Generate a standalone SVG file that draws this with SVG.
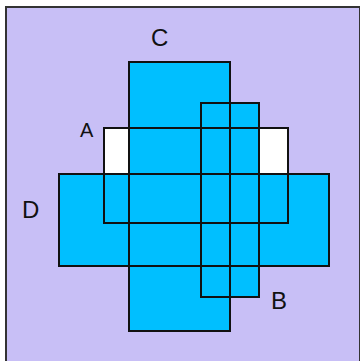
<svg xmlns="http://www.w3.org/2000/svg" width="360" height="361" viewBox="0 0 360 361">
<style>
.fill{fill:#00bfff;stroke:none}
.out{fill:none;stroke:#111;stroke-width:2}
.lbl{font-family:"Liberation Sans",Arial,sans-serif;fill:#111;font-size:24px}
</style>
<rect x="0" y="0" width="360" height="361" fill="#ffffff"/>
<rect x="6" y="7" width="354" height="360" fill="#c8bff6" stroke="#333" stroke-width="2"/>
<g id="fills">
<rect x="104" y="128" width="184" height="95" fill="#ffffff"/>
<rect class="fill" x="129" y="62" width="101" height="269"/>
<rect class="fill" x="59" y="174" width="270" height="92"/>
<rect class="fill" x="201" y="103" width="58" height="194"/>
</g>
<g id="A"><rect class="out" x="104" y="128" width="184" height="95"/><text class="lbl" x="80" y="137" style="font-size:20px">A</text></g>
<g id="C"><rect class="out" x="129" y="62" width="101" height="269"/><text class="lbl" x="151" y="46">C</text></g>
<g id="D"><rect class="out" x="59" y="174" width="270" height="92"/><text class="lbl" x="22" y="218">D</text></g>
<g id="B"><rect class="out" x="201" y="103" width="58" height="194"/><text class="lbl" x="271" y="309">B</text></g>
<g id="connectors"></g>
</svg>
